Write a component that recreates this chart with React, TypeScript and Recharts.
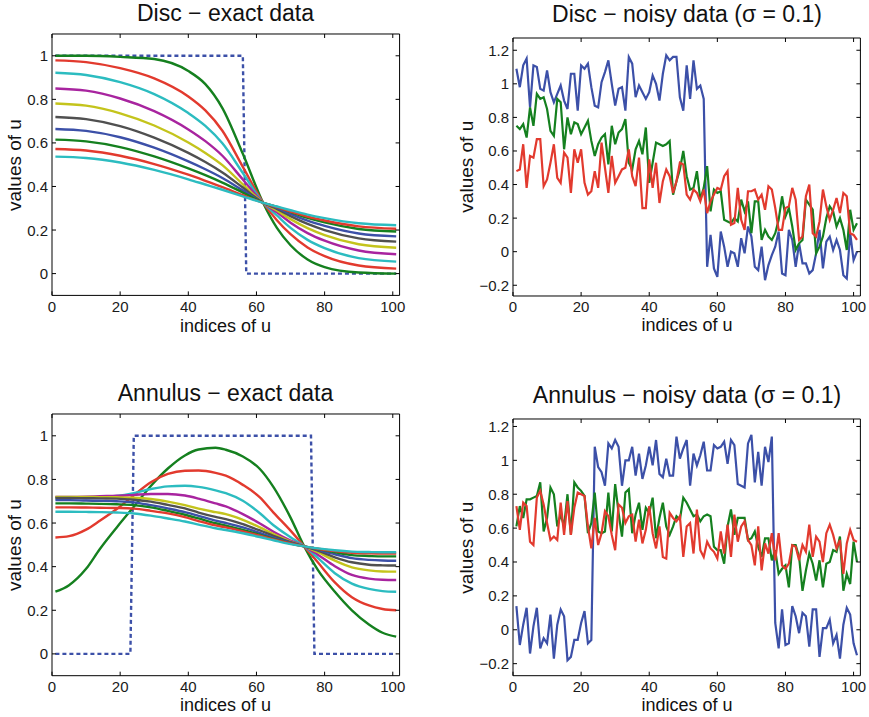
import { LineChart, Line, XAxis, YAxis, ReferenceArea } from "recharts";

const FONT = '"Liberation Sans", Arial, Helvetica, sans-serif';

const C = {
  blue: "#3c50a8",
  green: "#15801f",
  red: "#e23a2e",
  cyan: "#2cbcc0",
  magenta: "#a8249f",
  yellow: "#c4c41c",
  gray: "#505050",
};

const xTicks = [0, 20, 40, 60, 80, 100];
const exactYTicks = [0, 0.2, 0.4, 0.6, 0.8, 1];
const noisyYTicks = [-0.2, 0, 0.2, 0.4, 0.6, 0.8, 1, 1.2];

// ---- Disc, exact data ----
const discStepX = [1, 56, 57, 101];
const discStepY = [1, 1, 0, 0];
const discIdx = [1, 10, 20, 30, 40, 45, 50, 56, 62, 66, 70, 75, 80, 90, 101];
const discGreen1 = [1, 1, 0.995, 0.985, 0.93, 0.87, 0.76, 0.55, 0.323, 0.21, 0.13, 0.065, 0.03, 0.005, 0];
const discRed1 = [0.979, 0.971, 0.943, 0.896, 0.813, 0.749, 0.656, 0.49, 0.325, 0.245, 0.181, 0.12, 0.08, 0.037, 0.023];
const discCyan1 = [0.922, 0.912, 0.879, 0.824, 0.737, 0.678, 0.598, 0.462, 0.325, 0.267, 0.21, 0.155, 0.117, 0.071, 0.055];
const discMagenta = [0.85, 0.84, 0.804, 0.746, 0.662, 0.608, 0.541, 0.432, 0.325, 0.281, 0.234, 0.186, 0.151, 0.106, 0.089];
const discYellow = [0.781, 0.771, 0.736, 0.68, 0.602, 0.554, 0.498, 0.41, 0.325, 0.29, 0.25, 0.209, 0.177, 0.135, 0.119];
const discGray = [0.719, 0.709, 0.677, 0.624, 0.554, 0.512, 0.464, 0.395, 0.325, 0.297, 0.264, 0.228, 0.2, 0.162, 0.147];
const discBlue = [0.664, 0.655, 0.626, 0.578, 0.515, 0.479, 0.439, 0.382, 0.325, 0.302, 0.274, 0.243, 0.219, 0.184, 0.171];
const discGreen2 = [0.615, 0.607, 0.581, 0.538, 0.483, 0.452, 0.418, 0.372, 0.325, 0.306, 0.283, 0.256, 0.235, 0.205, 0.193];
const discRed2 = [0.572, 0.565, 0.541, 0.503, 0.454, 0.426, 0.397, 0.36, 0.325, 0.305, 0.285, 0.262, 0.244, 0.217, 0.206];
const discCyan2 = [0.537, 0.531, 0.51, 0.476, 0.433, 0.409, 0.385, 0.355, 0.325, 0.308, 0.291, 0.271, 0.255, 0.231, 0.222];

// ---- Annulus, exact data ----
const annStepX = [1, 23, 24, 76, 77, 101];
const annStepY = [0, 0, 1, 1, 0, 0];
const annIdx = [1, 5, 10, 14, 19, 24, 29, 34, 39, 43, 48, 51, 56, 61, 65, 70, 74, 78, 83, 88, 93, 97, 101];
const annGreen1 = [0.285, 0.315, 0.39, 0.48, 0.58, 0.675, 0.77, 0.85, 0.91, 0.937, 0.945, 0.936, 0.905, 0.848, 0.765, 0.625, 0.493, 0.385, 0.285, 0.2, 0.135, 0.097, 0.079];
const annRed1 = [0.534, 0.54, 0.57, 0.61, 0.664, 0.727, 0.787, 0.825, 0.84, 0.841, 0.83, 0.817, 0.775, 0.718, 0.648, 0.565, 0.493, 0.42, 0.328, 0.26, 0.222, 0.206, 0.2];
const annCyan1 = [0.715, 0.716, 0.717, 0.719, 0.724, 0.737, 0.756, 0.768, 0.771, 0.766, 0.75, 0.737, 0.702, 0.645, 0.59, 0.535, 0.493, 0.44, 0.37, 0.322, 0.298, 0.288, 0.285];
const annMagenta = [0.72, 0.72, 0.721, 0.723, 0.725, 0.729, 0.733, 0.733, 0.726, 0.712, 0.69, 0.676, 0.641, 0.598, 0.56, 0.52, 0.493, 0.455, 0.402, 0.362, 0.345, 0.34, 0.339];
const annYellow = [0.72, 0.72, 0.72, 0.719, 0.718, 0.716, 0.71, 0.698, 0.682, 0.666, 0.65, 0.641, 0.615, 0.58, 0.549, 0.515, 0.493, 0.466, 0.428, 0.397, 0.383, 0.378, 0.377];
const annGray = [0.715, 0.715, 0.714, 0.713, 0.712, 0.707, 0.698, 0.683, 0.667, 0.648, 0.628, 0.618, 0.595, 0.566, 0.541, 0.512, 0.493, 0.473, 0.443, 0.42, 0.409, 0.406, 0.405];
const annBlue = [0.705, 0.705, 0.703, 0.702, 0.7, 0.695, 0.682, 0.667, 0.65, 0.633, 0.611, 0.6, 0.58, 0.555, 0.533, 0.51, 0.493, 0.477, 0.457, 0.439, 0.431, 0.428, 0.427];
const annGreen2 = [0.69, 0.69, 0.689, 0.688, 0.686, 0.682, 0.672, 0.656, 0.638, 0.621, 0.599, 0.588, 0.568, 0.546, 0.527, 0.507, 0.493, 0.481, 0.466, 0.453, 0.449, 0.447, 0.447];
const annRed2 = [0.672, 0.672, 0.671, 0.67, 0.669, 0.666, 0.656, 0.644, 0.627, 0.609, 0.589, 0.58, 0.562, 0.542, 0.525, 0.506, 0.493, 0.482, 0.471, 0.464, 0.461, 0.46, 0.46];
const annCyan2 = [0.652, 0.652, 0.651, 0.65, 0.648, 0.644, 0.634, 0.621, 0.607, 0.593, 0.576, 0.568, 0.553, 0.536, 0.521, 0.503, 0.493, 0.484, 0.475, 0.469, 0.467, 0.466, 0.466];

// ---- noisy data, indices 1..101 ----
const noisyIdx = Array.from({ length: 101 }, (_, i) => i + 1);

const discNoisyBlue = [
  1.09, 0.98, 1.11, 1.15, 0.86, 1.11, 1.1, 0.97, 0.96, 1.08,
  0.95, 0.89, 0.94, 0.99, 0.9, 0.85, 1.06, 1.06, 0.84, 1.11,
  1.09, 1.12, 0.98, 0.87, 0.86, 1.01, 1.07, 1.14, 1.0, 0.87,
  0.97, 0.98, 0.84, 1.16, 1.12, 0.92, 0.99, 0.95, 0.91, 0.95,
  1.05, 1.0, 0.9, 1.06, 1.17, 1.14, 1.16, 1.16, 0.92, 0.84,
  1.11, 0.91, 1.14, 0.97, 0.99, 0.91, -0.09, 0.1, -0.1, -0.15,
  0.12, 0.03, -0.09, 0.0, -0.01, -0.09, 0.08, -0.01, 0.15, 0.09,
  -0.09, -0.11, 0.03, -0.17, -0.08, -0.02, 0.03, 0.12, -0.13, -0.14,
  0.13, 0.07, -0.09, 0.05, -0.07, -0.07, -0.13, -0.11, -0.01, 0.13,
  -0.1, 0.06, 0.09, 0.01, 0.07, 0.01, -0.14, -0.16, 0.11, -0.05, 0.0,
];
const discNoisyGreen = [
  0.75, 0.73, 0.76, 0.68, 0.86, 0.75, 0.94, 0.91, 0.92, 0.85,
  0.72, 0.69, 0.91, 0.89, 0.61, 0.8, 0.7, 0.77, 0.76, 0.7,
  0.74, 0.78, 0.66, 0.57, 0.64, 0.68, 0.7, 0.52, 0.75, 0.64,
  0.71, 0.73, 0.79, 0.53, 0.49, 0.61, 0.66, 0.58, 0.74, 0.41,
  0.53, 0.65, 0.64, 0.63, 0.64, 0.66, 0.34, 0.42, 0.49, 0.6,
  0.45, 0.37, 0.38, 0.48, 0.31, 0.38, 0.51, 0.24, 0.37, 0.35,
  0.36, 0.19, 0.18, 0.17, 0.2, 0.18, 0.31, 0.24, 0.3, 0.11,
  0.3, 0.3, 0.07, 0.13, 0.09, 0.07, 0.11, 0.19, 0.33, 0.21,
  0.26, 0.15, 0.01, 0.05, 0.07, 0.31, 0.28, 0.25, -0.01, 0.03,
  0.09, 0.2, 0.27, 0.24, 0.15, 0.2, 0.13, 0.01, 0.25, 0.13, 0.17,
];
const discNoisyRed = [
  0.48, 0.49, 0.64, 0.38, 0.57, 0.56, 0.67, 0.67, 0.39, 0.43,
  0.53, 0.64, 0.44, 0.41, 0.59, 0.56, 0.35, 0.61, 0.53, 0.61,
  0.41, 0.34, 0.36, 0.48, 0.38, 0.65, 0.5, 0.35, 0.57, 0.41,
  0.45, 0.49, 0.5, 0.61, 0.45, 0.39, 0.56, 0.26, 0.26, 0.55,
  0.38, 0.53, 0.29, 0.42, 0.49, 0.45, 0.35, 0.42, 0.53, 0.52,
  0.34, 0.31, 0.37, 0.35, 0.3, 0.37, 0.23, 0.3, 0.34, 0.38,
  0.37, 0.45, 0.48, 0.16, 0.17, 0.38, 0.19, 0.13, 0.36, 0.36,
  0.37, 0.31, 0.34, 0.25, 0.39, 0.37, 0.26, 0.13, 0.13, 0.26,
  0.27, 0.38, 0.31, 0.07, 0.09, 0.33, 0.4, 0.11, 0.09, 0.18,
  0.37, 0.27, 0.19, 0.25, 0.32, 0.23, 0.35, 0.33, 0.11, 0.1, 0.07,
];

const annNoisyBlue = [
  0.14, -0.09, 0.03, 0.13, -0.14, 0.02, 0.13, -0.11, -0.05, -0.08,
  0.09, -0.17, 0.03, 0.12, 0.08, -0.18, -0.16, -0.06, -0.06, 0.04,
  0.11, -0.08, -0.06, 1.08, 0.96, 0.93, 0.85, 1.1, 1.07, 1.12,
  1.08, 0.85, 1.0, 1.0, 1.08, 0.91, 1.04, 0.89, 0.97, 1.08,
  0.97, 1.12, 0.92, 0.9, 1.01, 0.91, 0.91, 1.14, 1.01, 1.07,
  1.12, 0.85, 1.04, 0.97, 1.03, 1.11, 0.94, 0.94, 1.09, 1.07,
  1.08, 1.11, 0.98, 1.12, 1.09, 0.86, 0.85, 0.84, 1.1, 1.15,
  0.87, 1.05, 0.85, 1.08, 0.99, 1.14, 0.04, -0.11, 0.12, -0.09,
  -0.08, 0.14, 0.08, -0.02, 0.1, 0.08, -0.1, 0.12, 0.12, -0.16,
  0.01, 0.01, 0.06, -0.08, -0.03, -0.17, 0.03, 0.13, 0.09, -0.08, -0.15,
];
const annNoisyGreen = [
  0.61, 0.73, 0.66, 0.77, 0.77, 0.78, 0.79, 0.87, 0.58, 0.66,
  0.84, 0.8, 0.61, 0.68, 0.61, 0.8, 0.56, 0.87, 0.84, 0.82,
  0.79, 0.57, 0.63, 0.81, 0.58, 0.57, 0.58, 0.81, 0.58, 0.86,
  0.69, 0.55, 0.81, 0.83, 0.57, 0.68, 0.75, 0.59, 0.72, 0.69,
  0.78, 0.54, 0.66, 0.75, 0.61, 0.56, 0.61, 0.67, 0.65, 0.78,
  0.75, 0.71, 0.67, 0.68, 0.64, 0.67, 0.68, 0.67, 0.49, 0.47,
  0.47, 0.39, 0.61, 0.71, 0.56, 0.66, 0.66, 0.66, 0.53, 0.54,
  0.58, 0.49, 0.43, 0.54, 0.54, 0.41, 0.47, 0.33, 0.36, 0.38,
  0.25, 0.5, 0.5, 0.43, 0.23, 0.35, 0.45, 0.39, 0.29, 0.41,
  0.25, 0.39, 0.4, 0.47, 0.46, 0.55, 0.23, 0.33, 0.27, 0.52, 0.4,
];
const annNoisyRed = [
  0.73, 0.59, 0.75, 0.73, 0.52, 0.5, 0.78, 0.82, 0.74, 0.63,
  0.53, 0.55, 0.53, 0.75, 0.56, 0.76, 0.56, 0.72, 0.81, 0.8,
  0.79, 0.61, 0.48, 0.66, 0.5, 0.57, 0.7, 0.67, 0.56, 0.47,
  0.74, 0.72, 0.63, 0.67, 0.68, 0.52, 0.65, 0.51, 0.59, 0.73,
  0.57, 0.48, 0.61, 0.43, 0.42, 0.69, 0.66, 0.64, 0.67, 0.43,
  0.61, 0.63, 0.45, 0.71, 0.47, 0.43, 0.52, 0.48, 0.46, 0.42,
  0.58, 0.45, 0.62, 0.43, 0.68, 0.52, 0.61, 0.64, 0.53, 0.5,
  0.38, 0.61, 0.35, 0.51, 0.45, 0.57, 0.41, 0.57, 0.38, 0.36,
  0.39, 0.5, 0.49, 0.41, 0.5, 0.46, 0.62, 0.43, 0.55, 0.52,
  0.4, 0.57, 0.62, 0.56, 0.48, 0.53, 0.33, 0.51, 0.59, 0.53, 0.52,
];

type Series = {
  name: string;
  color: string;
  xs: number[];
  ys: number[];
  dashed?: boolean;
  smooth?: boolean;
};

const toRows = (s: Series) => s.xs.map((x, i) => ({ x, [s.name]: s.ys[i] }));

const discExact: Series[] = [
  { name: "step", color: C.blue, xs: discStepX, ys: discStepY, dashed: true },
  { name: "g1", color: C.green, xs: discIdx, ys: discGreen1, smooth: true },
  { name: "r1", color: C.red, xs: discIdx, ys: discRed1, smooth: true },
  { name: "c1", color: C.cyan, xs: discIdx, ys: discCyan1, smooth: true },
  { name: "m", color: C.magenta, xs: discIdx, ys: discMagenta, smooth: true },
  { name: "y", color: C.yellow, xs: discIdx, ys: discYellow, smooth: true },
  { name: "k", color: C.gray, xs: discIdx, ys: discGray, smooth: true },
  { name: "b", color: C.blue, xs: discIdx, ys: discBlue, smooth: true },
  { name: "g2", color: C.green, xs: discIdx, ys: discGreen2, smooth: true },
  { name: "r2", color: C.red, xs: discIdx, ys: discRed2, smooth: true },
  { name: "c2", color: C.cyan, xs: discIdx, ys: discCyan2, smooth: true },
];

const annExact: Series[] = [
  { name: "step", color: C.blue, xs: annStepX, ys: annStepY, dashed: true },
  { name: "g1", color: C.green, xs: annIdx, ys: annGreen1, smooth: true },
  { name: "r1", color: C.red, xs: annIdx, ys: annRed1, smooth: true },
  { name: "c1", color: C.cyan, xs: annIdx, ys: annCyan1, smooth: true },
  { name: "m", color: C.magenta, xs: annIdx, ys: annMagenta, smooth: true },
  { name: "y", color: C.yellow, xs: annIdx, ys: annYellow, smooth: true },
  { name: "k", color: C.gray, xs: annIdx, ys: annGray, smooth: true },
  { name: "b", color: C.blue, xs: annIdx, ys: annBlue, smooth: true },
  { name: "g2", color: C.green, xs: annIdx, ys: annGreen2, smooth: true },
  { name: "r2", color: C.red, xs: annIdx, ys: annRed2, smooth: true },
  { name: "c2", color: C.cyan, xs: annIdx, ys: annCyan2, smooth: true },
];

const discNoisy: Series[] = [
  { name: "b", color: C.blue, xs: noisyIdx, ys: discNoisyBlue },
  { name: "g", color: C.green, xs: noisyIdx, ys: discNoisyGreen },
  { name: "r", color: C.red, xs: noisyIdx, ys: discNoisyRed },
];

const annNoisy: Series[] = [
  { name: "b", color: C.blue, xs: noisyIdx, ys: annNoisyBlue },
  { name: "g", color: C.green, xs: noisyIdx, ys: annNoisyGreen },
  { name: "r", color: C.red, xs: noisyIdx, ys: annNoisyRed },
];

const fmt = (v: number) => String(v).replace("-", "\u2212");

type PanelProps = {
  left: number;
  top: number;
  w: number;
  h: number;
  yDomain: [number, number];
  yTicks: number[];
  series: Series[];
};

const Panel = ({ left, top, w, h, yDomain, yTicks, series }: PanelProps) => {
  const xTick = (p: any) => (
    <g>
      <line x1={p.x} y1={p.y} x2={p.x} y2={p.y - 4} stroke="#000" />
      <line x1={p.x} y1={p.y - h} x2={p.x} y2={p.y - h + 4} stroke="#000" />
      <text x={p.x} y={p.y + 16.5} textAnchor="middle" fontSize={15} fontFamily={FONT} fill="#1a1a1a">
        {fmt(p.payload.value)}
      </text>
    </g>
  );
  const yTick = (p: any) => (
    <g>
      <line x1={p.x} y1={p.y} x2={p.x + 4} y2={p.y} stroke="#000" />
      <line x1={p.x + w} y1={p.y} x2={p.x + w - 4} y2={p.y} stroke="#000" />
      <text x={p.x - 4} y={p.y + 5.5} textAnchor="end" fontSize={15} fontFamily={FONT} fill="#1a1a1a">
        {fmt(p.payload.value)}
      </text>
    </g>
  );

  return (
    <div style={{ position: "absolute", left: left - 52, top: top - 40 }}>
      <LineChart width={w + 62} height={h + 80} margin={{ top: 40, right: 10, bottom: 10, left: 2 }}>
        <XAxis
          type="number"
          dataKey="x"
          domain={[0, 102]}
          ticks={xTicks}
          interval={0}
          allowDataOverflow
          height={30}
          tickSize={0}
          tickMargin={0}
          tickLine={false}
          axisLine={false}
          tick={xTick}
        />
        <YAxis
          type="number"
          domain={yDomain}
          ticks={yTicks}
          interval={0}
          allowDataOverflow
          width={50}
          tickSize={0}
          tickMargin={0}
          tickLine={false}
          axisLine={false}
          tick={yTick}
        />
        <ReferenceArea x1={0} x2={102} y1={yDomain[0]} y2={yDomain[1]} fill="none" stroke="#000" strokeWidth={1} />
        {series.map((s) => (
          <Line
            key={s.name}
            data={toRows(s)}
            dataKey={s.name}
            type={s.smooth ? "monotone" : "linear"}
            stroke={s.color}
            strokeWidth={s.smooth || s.dashed ? 2.4 : 2.2}
            strokeDasharray={s.dashed ? "4 3" : undefined}
            dot={false}
            activeDot={false}
            isAnimationActive={false}
          />
        ))}
      </LineChart>
    </div>
  );
};

const textStyle = { fontFamily: FONT, fill: "#111" };

export default function App() {
  return (
    <div style={{ position: "absolute", left: 0, top: 0, width: 869, height: 717, background: "#fff" }}>
      <Panel left={51.7} top={34.3} w={347.6} h={261.4} yDomain={[-0.1, 1.1]} yTicks={exactYTicks} series={discExact} />
      <Panel left={513.3} top={37.7} w={347.4} h={258} yDomain={[-0.264, 1.273]} yTicks={noisyYTicks} series={discNoisy} />
      <Panel left={51.7} top={414.3} w={347.6} h={261.7} yDomain={[-0.1, 1.1]} yTicks={exactYTicks} series={annExact} />
      <Panel left={513.3} top={419.3} w={347.4} h={256.7} yDomain={[-0.271, 1.244]} yTicks={noisyYTicks} series={annNoisy} />
      <svg width={869} height={717} style={{ position: "absolute", left: 0, top: 0, pointerEvents: "none" }}>
        <g {...textStyle} fontSize={23} textAnchor="middle">
          <text x={225.5} y={20.5}>Disc − exact data</text>
          <text x={687} y={21.5}>Disc − noisy data (σ = 0.1)</text>
          <text x={225.5} y={401}>Annulus − exact data</text>
          <text x={687} y={402.5}>Annulus − noisy data (σ = 0.1)</text>
        </g>
        <g {...textStyle} fontSize={18} textAnchor="middle">
          <text x={225.5} y={331.5}>indices of u</text>
          <text x={687} y={331}>indices of u</text>
          <text x={225.5} y={711}>indices of u</text>
          <text x={687} y={711}>indices of u</text>
        </g>
        <g {...textStyle} fontSize={19} textAnchor="middle">
          <text x={20.5} y={165} transform="rotate(-90 20.5 165)">values of u</text>
          <text x={473} y={166.7} transform="rotate(-90 473 166.7)">values of u</text>
          <text x={20.5} y={545} transform="rotate(-90 20.5 545)">values of u</text>
          <text x={473} y={547.7} transform="rotate(-90 473 547.7)">values of u</text>
        </g>
      </svg>
    </div>
  );
}
